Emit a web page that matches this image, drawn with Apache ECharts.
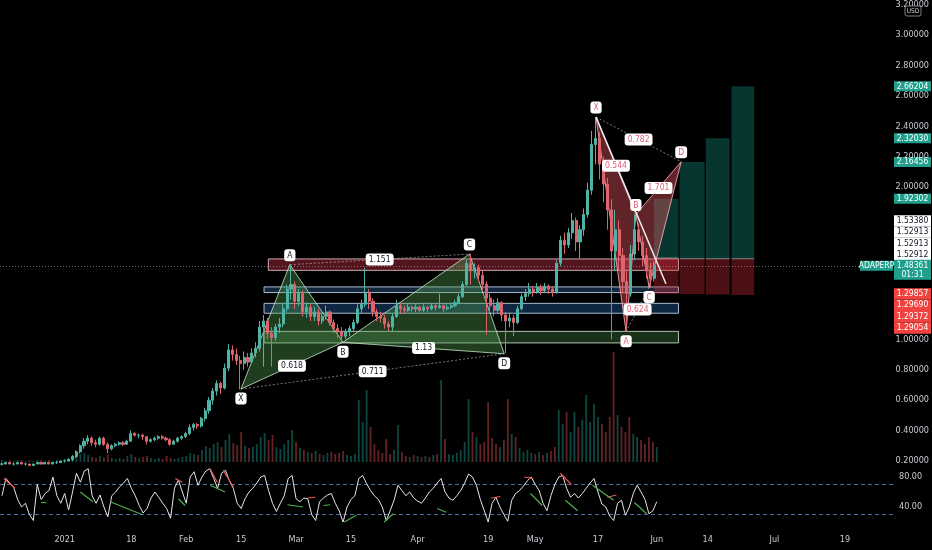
<!DOCTYPE html>
<html><head><meta charset="utf-8">
<script src="https://cdn.jsdelivr.net/npm/echarts@6/dist/echarts.min.js"></script>
<style>html,body{margin:0;padding:0;background:#000;}#c{width:932px;height:550px;}</style>
</head><body><div id="c"></div>
<script>
// ---------- DATA ----------
const startDate = '2020-12-16';
const dayCount = 228;
const tickDates = ['2021-01-01','2021-01-18','2021-02-01','2021-02-15','2021-03-01','2021-03-15','2021-04-01','2021-04-19','2021-05-01','2021-05-17','2021-06-01','2021-06-14','2021-07-01','2021-07-19'];
const tickLabels = ['2021','18','Feb','15','Mar','15','Apr','19','May','17','Jun','14','Jul','19'];

const open = [
0.18,0.18,0.19,0.18,0.18,0.19,0.18,0.18,0.17,0.18,
0.19,0.18,0.19,0.18,0.19,0.19,0.20,0.20,0.21,0.23,
0.26,0.30,0.33,0.35,0.32,0.31,0.35,0.31,0.28,0.30,
0.31,0.32,0.31,0.33,0.38,0.37,0.37,0.36,0.33,0.34,
0.35,0.36,0.35,0.34,0.31,0.33,0.35,0.36,0.38,0.42,
0.44,0.43,0.48,0.53,0.60,0.66,0.71,0.68,0.81,0.93,
0.90,0.86,0.84,0.88,0.85,0.91,0.94,1.08,1.12,1.04,
1.01,1.08,1.10,1.20,1.33,1.36,1.25,1.30,1.18,1.21,
1.15,1.18,1.12,1.15,1.18,1.11,1.07,1.05,1.02,1.05,
1.07,1.11,1.20,1.23,1.30,1.25,1.18,1.15,1.14,1.10,
1.08,1.15,1.22,1.20,1.19,1.21,1.20,1.21,1.19,1.21,
1.20,1.22,1.21,1.22,1.20,1.21,1.22,1.24,1.28,1.36,
1.50,1.45,1.47,1.42,1.36,1.27,1.22,1.19,1.24,1.16,
1.12,1.14,1.11,1.20,1.28,1.30,1.33,1.31,1.34,1.32,
1.35,1.33,1.31,1.50,1.65,1.62,1.70,1.78,1.64,1.72,
1.82,1.98,2.28,2.32,2.15,2.02,1.85,1.58,1.72,1.55,
1.38,1.30,1.56,1.72,1.64,1.55,1.45,1.40];
const high = [
0.19,0.19,0.19,0.19,0.19,0.19,0.19,0.18,0.18,0.19,
0.19,0.19,0.19,0.19,0.20,0.20,0.21,0.22,0.24,0.27,
0.31,0.35,0.37,0.36,0.34,0.36,0.36,0.32,0.31,0.32,
0.33,0.33,0.34,0.40,0.39,0.38,0.38,0.36,0.35,0.36,
0.37,0.37,0.36,0.35,0.34,0.36,0.37,0.39,0.44,0.45,
0.45,0.49,0.55,0.62,0.68,0.73,0.72,0.84,0.97,0.96,
0.94,0.89,0.92,0.91,0.94,0.98,1.12,1.16,1.14,1.08,
1.10,1.14,1.24,1.36,1.49,1.38,1.33,1.32,1.24,1.23,
1.21,1.20,1.17,1.22,1.19,1.13,1.10,1.08,1.07,1.09,
1.13,1.23,1.26,1.47,1.33,1.27,1.20,1.18,1.16,1.12,
1.17,1.26,1.24,1.22,1.23,1.22,1.23,1.22,1.23,1.22,
1.24,1.23,1.30,1.23,1.23,1.24,1.26,1.30,1.38,1.52,
1.56,1.50,1.49,1.45,1.38,1.30,1.26,1.27,1.25,1.18,
1.17,1.16,1.22,1.30,1.33,1.37,1.35,1.37,1.36,1.37,
1.36,1.35,1.52,1.68,1.70,1.73,1.83,1.80,1.75,1.86,
2.03,2.37,2.46,2.36,2.20,2.06,1.92,1.85,1.78,1.60,
1.45,1.62,1.82,1.76,1.68,1.60,1.50,1.51];
const low = [
0.17,0.18,0.18,0.17,0.18,0.18,0.17,0.17,0.17,0.18,
0.18,0.18,0.18,0.18,0.18,0.19,0.19,0.20,0.20,0.22,
0.25,0.28,0.31,0.30,0.29,0.30,0.30,0.25,0.27,0.29,
0.30,0.30,0.31,0.33,0.36,0.35,0.34,0.31,0.32,0.33,
0.34,0.34,0.33,0.30,0.31,0.32,0.34,0.35,0.37,0.40,
0.41,0.42,0.46,0.51,0.57,0.63,0.64,0.67,0.79,0.86,
0.83,0.67,0.80,0.82,0.84,0.88,0.92,0.82,1.00,0.82,
0.99,1.04,1.08,1.18,1.26,1.20,1.22,1.15,1.14,1.12,
1.12,1.09,1.10,1.13,1.09,1.04,1.01,0.98,1.00,1.02,
1.05,1.10,1.17,1.21,1.20,1.15,1.12,1.11,1.07,1.05,
1.05,1.14,1.17,1.17,1.18,1.18,1.18,1.18,1.18,1.18,
1.19,1.19,1.20,1.18,1.19,1.20,1.21,1.23,1.27,1.35,
1.36,1.40,1.38,1.32,1.03,1.18,1.15,1.17,1.12,0.91,
1.08,1.02,1.10,1.19,1.25,1.28,1.28,1.30,1.29,1.31,
1.30,1.28,1.30,1.48,1.56,1.60,1.66,1.58,1.53,1.68,
1.80,1.95,2.15,2.05,1.90,1.72,1.00,1.45,1.45,1.30,
1.05,1.28,1.52,1.58,1.48,1.40,1.34,1.38];
const close = [
0.18,0.19,0.18,0.18,0.19,0.18,0.18,0.17,0.18,0.19,
0.18,0.19,0.18,0.19,0.19,0.20,0.20,0.21,0.23,0.26,
0.30,0.33,0.35,0.32,0.31,0.35,0.31,0.28,0.30,0.31,
0.32,0.31,0.33,0.38,0.37,0.37,0.36,0.33,0.34,0.35,
0.36,0.35,0.34,0.31,0.33,0.35,0.36,0.38,0.42,0.44,
0.43,0.48,0.53,0.60,0.66,0.71,0.68,0.81,0.93,0.90,
0.86,0.84,0.88,0.85,0.91,0.94,1.08,1.12,1.04,1.01,
1.08,1.10,1.20,1.33,1.36,1.25,1.30,1.18,1.21,1.15,
1.18,1.12,1.15,1.18,1.11,1.07,1.05,1.02,1.05,1.07,
1.11,1.20,1.23,1.30,1.25,1.18,1.15,1.14,1.10,1.08,
1.15,1.22,1.20,1.19,1.21,1.20,1.21,1.19,1.21,1.20,
1.22,1.21,1.22,1.20,1.21,1.22,1.24,1.28,1.36,1.50,
1.45,1.47,1.42,1.36,1.27,1.22,1.19,1.24,1.16,1.12,
1.14,1.11,1.20,1.28,1.30,1.33,1.31,1.34,1.32,1.35,
1.33,1.31,1.50,1.65,1.62,1.70,1.78,1.64,1.72,1.82,
1.98,2.28,2.32,2.15,2.02,1.85,1.58,1.72,1.55,1.38,
1.30,1.56,1.72,1.64,1.55,1.45,1.40,1.48361];
const volume = [
2,1,2,1,2,2,1,2,1,2,2,1,2,1,2,2,
3,3,5,6,8,9,7,
5,4,6,5,7,4,3,4,3,6,8,5,4,5,6,4,3,4,3,6,4,3,4,5,6,
9,8,7,12,16,14,18,20,15,22,28,19,17,
30,16,14,15,18,25,29,22,27,15,13,18,22,32,20,
14,12,10,9,11,8,7,9,10,8,9,11,7,6,8,
62,40,72,35,18,
12,9,23,8,12,37,10,6,5,7,6,5,6,5,7,8,
82,23,8,7,9,12,
20,63,30,25,18,20,60,24,18,15,22,63,28,
25,14,10,12,9,8,10,7,9,11,15,52,38,50,30,
50,35,42,67,40,58,45,38,30,45,110,47,35,30,45,
28,25,22,18,25,20,15];
const rsi = [
55,78,72,66,50,40,45,30,22,70,
50,58,62,80,55,45,58,36,60,85,
73,88,91,55,45,56,40,27,55,60,
67,72,78,65,55,42,32,38,52,60,
53,45,38,25,65,76,60,45,80,87,
69,80,88,91,78,65,85,89,75,65,
45,38,51,60,65,72,80,82,62,45,
34,45,55,78,82,51,47,52,51,30,
22,47,52,56,58,45,35,20,40,50,
55,78,82,71,62,55,50,40,22,35,
49,69,62,55,60,52,48,45,52,60,
65,72,78,60,52,49,55,62,72,84,
80,69,50,35,20,45,53,40,30,21,
49,58,62,68,75,80,70,62,45,35,
55,70,80,82,65,53,58,52,58,65,
72,78,60,44,40,28,22,45,49,29,
40,58,69,60,50,31,35,47];
const rsiBands = [70, 30];
const rsiBearSegs = [[0.5,78,3.3,65],[44.2,78,46,73],[53.1,91,54.9,73],[56.4,89,59,67],[77.9,52,79.9,53],[124.8,52,127.1,54],[133.2,80,135.5,78],[142.4,85,145.2,70],[154.4,53,156.7,56]];
const rsiBullSegs = [[10,46,11.2,46],[20,60,23.2,47],[27.6,47,35.7,30],[45,51,46.7,42],[53.1,69,56.9,60],[72.8,43,76.8,40],[82,42,83.7,43],[87.3,20,90.4,29],[97.5,20,99.8,31],[111,38,113.3,33],[134.8,58,137.8,42],[143.7,49,146.8,35],[150.6,69,156,49],[161.3,46,164.4,31]];

const lastPrice = 1.48361;
const symbolName = 'ADAPERP';
const countdown = '01:31';
// harmonic patterns: X, A, B, C, D as [day index, price]
const pattern1Points = [[61.2,0.673],[73.7,1.49],[87.3,0.98],[119.7,1.56],[128.6,0.905]];
const pattern1Ratios = ['0.618','1.151','1.13','0.711'];
const pattern2Points = [[152.1,2.46],[159.8,1.05],[162.3,1.82],[165.7,1.34],[173.9,2.167]];
const pattern2Ratios = ['0.544','0.624','1.701','0.782'];
const pointNames = ['X','A','B','C','D'];
const trendLine = [[152.1,2.46],[170.0,1.365]];
// horizontal zones: [start day, end day, low price, high price]
const zones = [[68.2,173.2,1.453,1.528],[67.1,173.2,1.307,1.344],[67.1,173.2,1.171,1.236],[67.1,173.2,0.976,1.052]];
// position tools
const boxSpans = [[166.9,173.2],[173.5,179.9],[180.2,186.3],[186.8,192.6]];
const entries = [1.53380,1.52913,1.52913,1.52912];
const targets = [1.92302,2.16456,2.32030,2.66204];
const stops = [1.29857,1.29690,1.29372,1.29054];
const entryLabels = ['1.53380','1.52913','1.52913','1.52912'];
const targetLabels = ['2.66204','2.32030','2.16456','1.92302'];
const stopLabels = ['1.29857','1.29690','1.29372','1.29054'];

// ---------- BUILD ----------
const FONT = "'Liberation Sans Narrow','DejaVu Sans Condensed','Liberation Sans',sans-serif";
const AX = '#c9ccd3';
const N = dayCount;
const categories = [];
const t0 = Date.parse(startDate + 'T00:00:00Z');
for (let k = 0; k < N; k++) categories.push(new Date(t0 + k * 86400000).toISOString().slice(0, 10));
const tickMap = {};
tickDates.forEach((d, k) => tickMap[d] = tickLabels[k]);

const UP = '#4fb3a6', DOWN = '#e0636b';
const candles = open.map((o, i) => [o, close[i], low[i], high[i]]);
const volData = volume.map((v, i) => ({value: v, itemStyle: {color: close[i] >= open[i] ? 'rgba(38,166,154,0.42)' : 'rgba(239,83,80,0.42)'}}));

function rectRender(fills, strokes) {
  return function (params, api) {
    const a = api.coord([api.value(0), api.value(3)]);
    const b = api.coord([api.value(1), api.value(2)]);
    const k = params.dataIndex;
    return {type: 'rect', shape: {x: a[0], y: a[1], width: b[0] - a[0], height: b[1] - a[1]},
      style: {fill: fills[k % fills.length], stroke: strokes ? strokes[k % strokes.length] : null, lineWidth: 1}};
  };
}
function segRender(color, width, dash) {
  return function (params, api) {
    const a = api.coord([api.value(0), api.value(1)]);
    const b = api.coord([api.value(2), api.value(3)]);
    return {type: 'line', shape: {x1: a[0], y1: a[1], x2: b[0], y2: b[1]},
      style: {stroke: color, lineWidth: width, lineDash: dash || null}};
  };
}
function triRender(fill, stroke) {
  return function (params, api) {
    const pts = [];
    for (let j = 0; j < 3; j++) pts.push(api.coord([api.value(2 * j), api.value(2 * j + 1)]));
    return {type: 'polygon', shape: {points: pts}, style: {fill: fill, stroke: stroke, lineWidth: 1}};
  };
}
function tri(p, a, b, c) { return [p[a][0], p[a][1], p[b][0], p[b][1], p[c][0], p[c][1]]; }
function seg(p, a, b) { return [p[a][0], p[a][1], p[b][0], p[b][1]]; }
function mid(p, a, b) { return [(p[a][0] + p[b][0]) / 2, (p[a][1] + p[b][1]) / 2]; }
const ratioPairs = [[0, 2], [1, 3], [2, 4], [0, 4]];

function letterData(points, positions) {
  return points.map((p, k) => ({value: p, name: pointNames[k], label: {position: positions[k]}}));
}
function ratioData(points, ratios) {
  return ratioPairs.map((pr, k) => ({value: mid(points, pr[0], pr[1]), name: ratios[k]}));
}
function labelSeries(data, textColor, pos) {
  return {type: 'scatter', xAxisIndex: 1, yAxisIndex: 0, symbol: 'circle', symbolSize: 1, z: 10,
    itemStyle: {color: 'rgba(0,0,0,0)', opacity: 1}, data: data, silent: true,
    label: {show: true, position: pos, formatter: '{b}', color: textColor, backgroundColor: '#ffffff', opacity: 1,
      padding: [2, 3, 1, 3], borderRadius: 3, fontSize: 8.5, fontFamily: FONT, distance: 3}};
}

const hiddenPriceLabels = [12, 14, 16, 18];
const option = {
  backgroundColor: '#000000',
  animation: false,
  grid: [
    {left: 0, right: 38, top: 0, height: 461},
    {left: 0, right: 38, top: 340, height: 122},
    {left: 0, right: 38, top: 462, height: 60}
  ],
  xAxis: [
    {type: 'category', gridIndex: 0, data: categories, show: false},
    {type: 'value', gridIndex: 0, min: -0.5, max: N - 0.5, show: false},
    {type: 'category', gridIndex: 1, data: categories, show: false},
    {type: 'category', gridIndex: 2, data: categories, axisLine: {show: false}, axisTick: {show: false}, splitLine: {show: false},
      axisLabel: {interval: (i, v) => tickMap[v] !== undefined, formatter: v => tickMap[v] || '', color: AX, fontSize: 9, fontFamily: FONT, margin: 13, hideOverlap: false}},
    {type: 'value', gridIndex: 2, min: -0.5, max: N - 0.5, show: false}
  ],
  yAxis: [
    {type: 'value', gridIndex: 0, position: 'right', min: 0.2, max: 3.2, interval: 0.2,
      splitLine: {show: false}, axisLine: {show: false}, axisTick: {show: false},
      axisLabel: {color: AX, fontSize: 9, fontFamily: FONT, margin: 5, showMaxLabel: true,
        formatter: v => hiddenPriceLabels.indexOf(Math.round(v * 10)) >= 0 ? '' : v.toFixed(5)}},
    {type: 'value', gridIndex: 1, min: 0, max: 122, show: false},
    {type: 'value', gridIndex: 2, position: 'right', min: 20, max: 100, interval: 20,
      splitLine: {show: false}, axisLine: {show: false}, axisTick: {show: false},
      axisLabel: {color: AX, fontSize: 9, fontFamily: FONT, margin: 5, formatter: v => (v === 40 || v === 80) ? v.toFixed(2) : ''}}
  ],
  series: [
    {type: 'bar', xAxisIndex: 2, yAxisIndex: 1, data: volData, barWidth: 1.8, z: 1, silent: true},
    {type: 'custom', xAxisIndex: 1, yAxisIndex: 0, z: 2, silent: true, data: zones,
      renderItem: rectRender(['rgba(105,25,38,0.8)', 'rgba(28,52,82,0.75)', 'rgba(18,46,78,0.85)', 'rgba(34,64,34,0.75)'],
        ['rgba(235,195,200,0.85)', 'rgba(195,215,235,0.85)', 'rgba(195,215,235,0.85)', 'rgba(205,225,205,0.85)'])},
    {type: 'custom', xAxisIndex: 1, yAxisIndex: 0, z: 2, silent: true,
      data: boxSpans.map((b, k) => [b[0], b[1], entries[k], targets[k]]),
      renderItem: rectRender(['rgba(16,150,130,0.36)'], null)},
    {type: 'custom', xAxisIndex: 1, yAxisIndex: 0, z: 2, silent: true,
      data: boxSpans.map((b, k) => [b[0], b[1], stops[k], entries[k]]),
      renderItem: rectRender(['rgba(200,40,50,0.38)'], null)},
    {type: 'custom', xAxisIndex: 1, yAxisIndex: 0, z: 2, silent: true,
      data: boxSpans.map((b, k) => [b[0], entries[k], b[1], entries[k]]),
      renderItem: segRender('rgba(220,220,220,0.55)', 1)},
    {type: 'custom', xAxisIndex: 1, yAxisIndex: 0, z: 3, silent: true,
      data: [tri(pattern1Points, 0, 1, 2), tri(pattern1Points, 2, 3, 4)],
      renderItem: triRender('rgba(85,160,85,0.38)', 'rgba(200,230,200,0.8)')},
    {type: 'custom', xAxisIndex: 1, yAxisIndex: 0, z: 3, silent: true,
      data: [tri(pattern2Points, 0, 1, 2), tri(pattern2Points, 2, 3, 4)],
      renderItem: triRender('rgba(230,85,95,0.42)', 'rgba(250,175,185,0.85)')},
    {type: 'custom', xAxisIndex: 1, yAxisIndex: 0, z: 3, silent: true,
      data: [seg(pattern1Points, 1, 3), seg(pattern1Points, 0, 4), seg(pattern2Points, 1, 3), seg(pattern2Points, 0, 4)],
      renderItem: segRender('rgba(200,200,200,0.6)', 1, [2, 2])},
    {type: 'candlestick', xAxisIndex: 0, yAxisIndex: 0, data: candles, z: 5, clip: false, barWidth: 2.6, silent: true,
      itemStyle: {color: UP, color0: DOWN, borderColor: UP, borderColor0: DOWN, borderWidth: 1},
      markLine: {symbol: 'none', silent: true, label: {show: false}, data: [{yAxis: lastPrice}],
        lineStyle: {color: 'rgba(170,170,170,0.6)', type: [1, 2], width: 1}}},
    {type: 'custom', xAxisIndex: 1, yAxisIndex: 0, z: 6, silent: true,
      data: [[trendLine[0][0], trendLine[0][1], trendLine[1][0], trendLine[1][1]]],
      renderItem: segRender('#eeeeee', 1.5)},
    labelSeries(letterData(pattern1Points, ['bottom', 'top', 'bottom', 'top', 'bottom']), '#131722', 'top'),
    labelSeries(letterData(pattern2Points, ['top', 'bottom', 'top', 'bottom', 'top']), '#e0607a', 'top'),
    labelSeries(ratioData(pattern1Points, pattern1Ratios), '#131722', 'inside'),
    labelSeries(ratioData(pattern2Points, pattern2Ratios), '#e0607a', 'inside'),
    {type: 'line', xAxisIndex: 3, yAxisIndex: 2, data: rsi, symbol: 'none', clip: false, z: 5, silent: true,
      lineStyle: {color: '#e6e6e6', width: 1},
      markLine: {symbol: 'none', silent: true, label: {show: false}, data: rsiBands.map(v => ({yAxis: v})),
        lineStyle: {color: '#4f6fa3', type: [4, 3], width: 1}}},
    {type: 'custom', xAxisIndex: 4, yAxisIndex: 2, z: 6, silent: true, data: rsiBearSegs, renderItem: segRender('#ef5350', 1.2)},
    {type: 'custom', xAxisIndex: 4, yAxisIndex: 2, z: 6, silent: true, data: rsiBullSegs, renderItem: segRender('#4caf50', 1.2)}
  ]
};

const chart = echarts.init(document.getElementById('c'), null, {renderer: 'canvas'});
chart.setOption(option);

// ---------- price-scale tags ----------
const yOf = v => chart.convertToPixel({yAxisIndex: 0}, v);
const TX = 894, TW = 37;
const gfx = [];
function tag(x, yc, w, h, bg, fg, text) {
  gfx.push({type: 'rect', z: 100, shape: {x: x, y: yc - h / 2, width: w, height: h}, style: {fill: bg}});
  gfx.push({type: 'text', z: 101, x: x + w / 2, y: yc, style: {text: text, fill: fg, font: '8.5px ' + FONT,
    align: 'center', verticalAlign: 'middle', textAlign: 'center', textVerticalAlign: 'middle'}});
}
const targetVals = targets.slice().sort((a, b) => b - a);
targetVals.forEach((v, k) => tag(TX, yOf(v), TW, 10, '#1f9f8c', '#ffffff', targetLabels[k]));
const whiteStackBottom = yOf(lastPrice) - 11;
entryLabels.forEach((t, k) => tag(TX, whiteStackBottom - (3 - k) * 11.3, TW, 11.3, '#ffffff', '#131722', t));
const redStackTop = yOf(stops[0]);
stopLabels.forEach((t, k) => tag(TX, redStackTop + k * 11.4, TW, 11.4, '#f0433f', '#ffffff', t));
// last price + countdown
const yp = yOf(lastPrice);
gfx.push({type: 'rect', z: 100, shape: {x: TX, y: yp - 6, width: TW, height: 20}, style: {fill: '#1f9f8c'}});
gfx.push({type: 'text', z: 101, x: TX + TW / 2, y: yp, style: {text: lastPrice.toFixed(5), fill: '#fff', font: '8.5px ' + FONT, align: 'center', verticalAlign: 'middle'}});
gfx.push({type: 'text', z: 101, x: TX + TW / 2, y: yp + 9.5, style: {text: countdown, fill: '#fff', font: '8.5px ' + FONT, align: 'center', verticalAlign: 'middle'}});
tag(860, yp, 33, 10, '#1f9f8c', '#ffffff', symbolName);
// currency badge
gfx.push({type: 'rect', z: 100, shape: {x: 905, y: 6, width: 16, height: 10, r: 2}, style: {fill: '#000', stroke: '#9aa0a8', lineWidth: 0.8}});
gfx.push({type: 'text', z: 101, x: 913, y: 11, style: {text: 'USD', fill: '#d0d3d8', font: '6.5px ' + FONT, align: 'center', verticalAlign: 'middle'}});
chart.setOption({graphic: gfx});
</script>
</body></html>
